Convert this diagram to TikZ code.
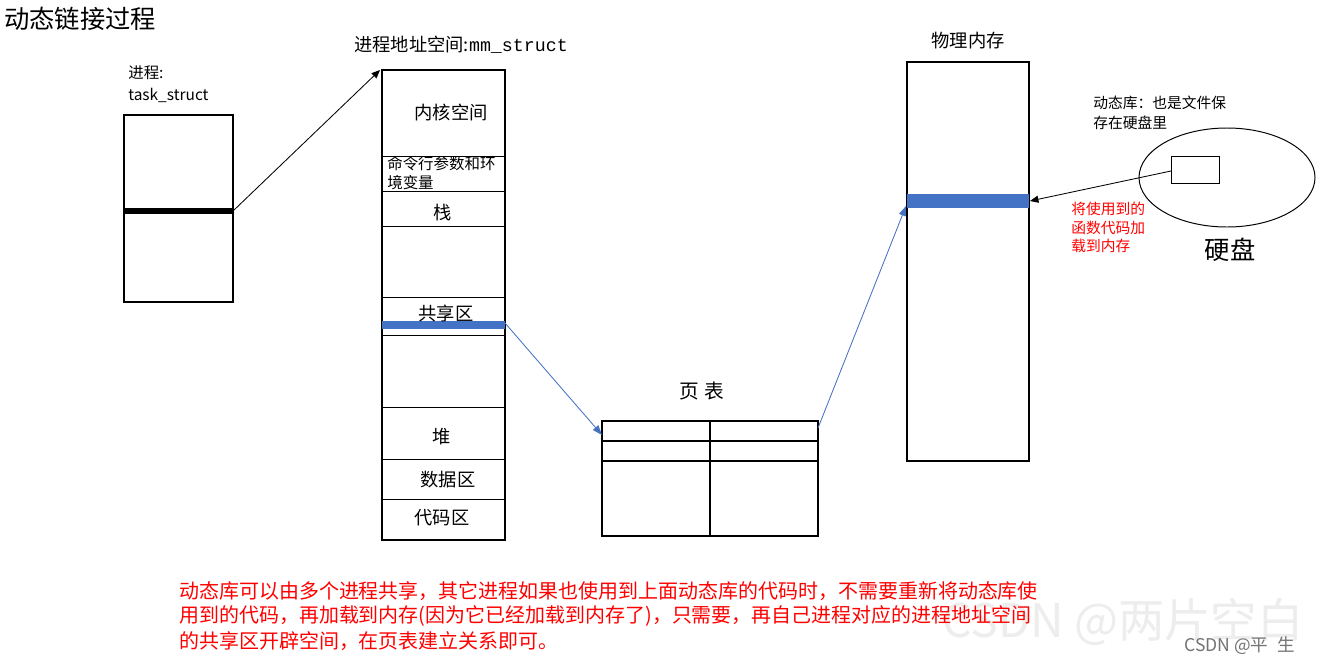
\documentclass[tikz,border=0pt]{standalone}
\usepackage{fontspec}
\setmainfont{Noto Sans CJK SC}
\setmonofont{Liberation Mono}
\usetikzlibrary{arrows.meta}
\definecolor{barblue}{HTML}{4472C4}
\definecolor{notered}{HTML}{FF0000}
\tikzset{
  box/.style={draw=black,line width=0.9pt},
  blk/.style={draw=black,line width=0.6pt,-{Triangle[length=6pt,width=5pt]}},
  blu/.style={draw=barblue,line width=0.6pt,-{Triangle[length=7pt,width=5pt]}},
  fsz/.style={font=\fontsize{#1}{#1}\selectfont},
  seg/.style={fsz=13},
  lbl/.style={anchor=west,fsz=11,inner sep=0pt}
}
\begin{document}
\begin{tikzpicture}[x=0.025cm,y=-0.025cm]
  \useasboundingbox[fill=white](0,0) rectangle (1321,665);
  % watermark
  \node[anchor=west,fsz=33,inner sep=0pt,text=black!7] (wm) at (942,622) {CSDN @两片空白};
  \node[anchor=west,fsz=12.5,inner sep=0pt,text=black!55] (wm2) at (1184,646) {CSDN @平\hspace{0.5em}生};
  \node[anchor=west,fsz=18,inner sep=0pt] (title) at (4,19) {动态链接过程};
  % task_struct
  \node[lbl] (tasklbl) at (128,73) {进程:};
  \node[lbl] (taskname) at (128,95) {task\_struct};
  \draw[box](124,115) rectangle (233,302);
  \fill(124,208) rectangle (233,214);
  \coordinate (taskbar) at (233,211);
  % mm_struct
  \node[anchor=west,fsz=13,inner sep=0pt] (mmlbl) at (354,45) {进程地址空间:\texttt{mm\_struct}};
  \draw[box](382,70) rectangle (505,540);
  \foreach \y in {156,191,226,297,335,407,459,499}
    \draw[line width=0.7pt](382,\y)--(505,\y);
  \fill[barblue](382,321) rectangle (505,329);
  \coordinate (mmtop) at (380,70);
  \coordinate (mmshare) at (505,323);
  \node[seg] (kern) at (451,113) {内核空间};
  \node[lbl] (argv1) at (387,164) {命令行参数和环};
  \node[lbl] (argv2) at (387,183) {境变量};
  \node[seg] (stack) at (443,213) {栈};
  \node[seg] (share) at (446,314) {共享区};
  \node[seg] (heap) at (442,437) {堆};
  \node[seg] (data) at (448,480) {数据区};
  \node[seg] (code) at (442,518) {代码区};
  \draw[blk](taskbar)--(mmtop);
  % page table
  \node[fsz=14] (ptlbl) at (702,391) {页\hspace{0.3em}表};
  \draw[box](602,421) rectangle (818,536);
  \draw[line width=0.8pt](602,441)--(818,441) (602,461)--(818,461) (710,421)--(710,536);
  \coordinate (ptin) at (602,435);
  \coordinate (ptout) at (818,428);
  \draw[blu](mmshare)--(ptin);
  % physical memory
  \node[fsz=13] (memlbl) at (968,41) {物理内存};
  \draw[box](907,62) rectangle (1029,461);
  \fill[barblue](907,194) rectangle (1029,208);
  \coordinate (memin) at (906,206);
  \coordinate (memright) at (1030,201);
  \draw[blu](ptout)--(memin);
  % disk
  \draw[line width=0.7pt](1227,177.5) ellipse [x radius=88,y radius=49.5];
  \draw[line width=0.7pt](1171,156) rectangle (1219,183);
  \coordinate (lib) at (1171,171);
  \draw[blk](lib)--(memright);
  \node[lbl,fsz=10.5] (lib1) at (1093,103) {动态库：也是文件保};
  \node[lbl,fsz=10.5] (lib2) at (1093,123) {存在硬盘里};
  \node[lbl,fsz=10.5,text=notered] (load1) at (1071,209) {将使用到的};
  \node[lbl,fsz=10.5,text=notered] (load2) at (1071,228) {函数代码加};
  \node[lbl,fsz=10.5,text=notered] (load3) at (1071,246) {载到内存};
  \node[fsz=18] (disk) at (1230,250) {硬盘};
  % bottom note
  \node[anchor=west,fsz=14.2,inner sep=0pt,text=notered] (note1) at (179,591) {动态库可以由多个进程共享，其它进程如果也使用到上面动态库的代码时，不需要重新将动态库使};
  \node[anchor=west,fsz=14.2,inner sep=0pt,text=notered] (note2) at (179,616) {用到的代码，再加载到内存(因为它已经加载到内存了)，只需要，再自己进程对应的进程地址空间};
  \node[anchor=west,fsz=14.2,inner sep=0pt,text=notered] (note3) at (179,641) {的共享区开辟空间，在页表建立关系即可。};
\end{tikzpicture}
\end{document}
